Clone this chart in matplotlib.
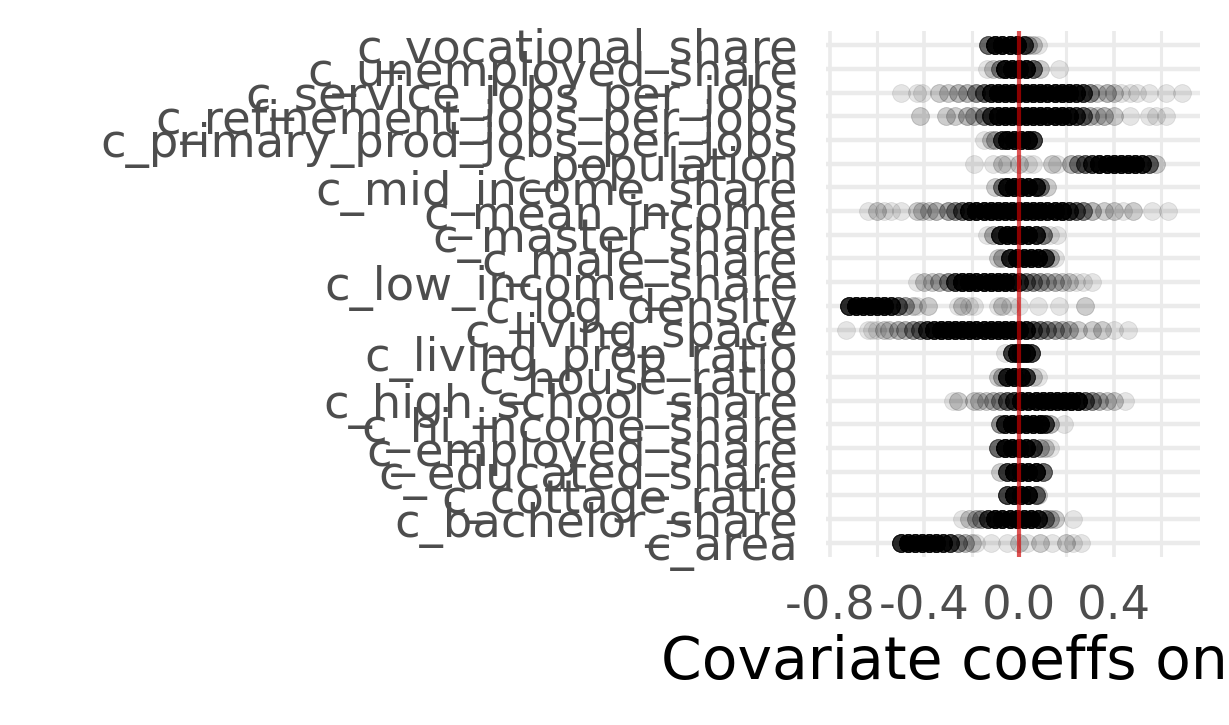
import numpy as np
import matplotlib
matplotlib.use("Agg")
import matplotlib.pyplot as plt

# covariates, bottom to top (alphabetical, like a ggplot factor)
covariates = ["c_area", "c_bachelor_share", "c_cottage_ratio", "c_educated_share",
              "c_employed_share", "c_hi_income_share", "c_high_school_share",
              "c_house_ratio", "c_living_prop_ratio", "c_living_space",
              "c_log_density", "c_low_income_share", "c_male_share",
              "c_master_share", "c_mean_income", "c_mid_income_share",
              "c_population", "c_primary_prod_jobs_per_jobs",
              "c_refinement_jobs_per_jobs", "c_service_jobs_per_jobs",
              "c_unemployed_share", "c_vocational_share"]

# coefficient values, with how many runs sit at each value
area_vals = [-0.50, -0.47, -0.44, -0.41, -0.38, -0.35, -0.32, -0.29, -0.26, -0.23, -0.20, -0.18,
             -0.12, -0.05, 0.00, 0.035, 0.09, 0.14, 0.20, 0.23, 0.26]
area_cnts = [16, 20, 20, 20, 20, 20, 16, 12, 5, 3, 2, 1, 1, 1, 2, 1, 2, 1, 2, 1, 1]

bachelor_vals = [-0.24, -0.21, -0.18, -0.16, -0.13, -0.10, -0.07, -0.04, -0.01, 0.02, 0.05, 0.08,
                 0.11, 0.13, 0.15, 0.23]
bachelor_cnts = [1, 2, 3, 4, 12, 20, 20, 20, 20, 20, 20, 16, 6, 3, 2, 1]

cottage_vals = [-0.05, -0.02, 0.01, 0.04, 0.07, 0.08]
cottage_cnts = [12, 20, 20, 20, 8, 2]

educated_vals = [-0.08, -0.05, -0.02, 0.01, 0.04, 0.07, 0.10]
educated_cnts = [2, 12, 20, 20, 20, 20, 8]

employed_vals = [-0.09, -0.06, -0.03, 0.00, 0.03, 0.06, 0.09, 0.11, 0.13]
employed_cnts = [8, 20, 20, 20, 20, 12, 3, 2, 1]

hi_income_vals = [-0.08, -0.06, -0.03, 0.00, 0.03, 0.06, 0.09, 0.11, 0.13, 0.19]
hi_income_cnts = [5, 16, 20, 20, 20, 20, 20, 12, 3, 1]

high_school_vals = [-0.28, -0.26, -0.19, -0.17, -0.14, -0.11, -0.08, -0.05, -0.02, 0.01, 0.04,
                    0.07, 0.10, 0.13, 0.16, 0.19, 0.22, 0.25, 0.28, 0.31, 0.34, 0.37, 0.40, 0.45]
high_school_cnts = [1, 2, 2, 2, 2, 3, 4, 8, 12, 20, 20, 20, 20, 20, 20, 20, 20, 20, 8, 5, 3, 2,
                    2, 1]

house_vals = [-0.09, -0.07, -0.05, -0.02, 0.01, 0.03, 0.06, 0.08]
house_cnts = [2, 3, 16, 20, 20, 12, 2, 1]

living_prop_vals = [-0.06, -0.03, -0.01, 0.01, 0.03, 0.05]
living_prop_cnts = [1, 12, 20, 20, 20, 12]

living_space_vals = [-0.73, -0.64, -0.62, -0.60, -0.57, -0.55, -0.51, -0.48, -0.45, -0.42, -0.39,
                     -0.36, -0.33, -0.30, -0.27, -0.24, -0.21, -0.18, -0.15, -0.12, -0.09, -0.06,
                     -0.03, 0.00, 0.03, 0.06, 0.09, 0.12, 0.15, 0.18, 0.21, 0.25, 0.31, 0.35,
                     0.40, 0.46]
living_space_cnts = [1, 1, 1, 1, 2, 2, 3, 3, 5, 6, 12, 16, 20, 20, 20, 20, 20, 20, 20, 20, 20, 20,
                     20, 20, 16, 8, 6, 5, 4, 3, 3, 2, 2, 2, 1, 1]

log_density_vals = [-0.72, -0.69, -0.66, -0.63, -0.60, -0.57, -0.54, -0.51, -0.48, -0.45, -0.43,
                    -0.385, -0.26, -0.24, -0.21, -0.19, -0.09, -0.07, -0.04, 0.00, 0.08, 0.17, 0.28]
log_density_cnts = [16, 20, 20, 20, 20, 20, 16, 8, 4, 2, 1, 2, 1, 2, 1, 1, 1, 2, 1, 1, 1, 1, 2]

low_income_vals = [-0.43, -0.40, -0.37, -0.34, -0.30, -0.27, -0.24, -0.21, -0.18, -0.15, -0.12,
                   -0.09, -0.06, -0.03, 0.00, 0.03, 0.06, 0.09, 0.12, 0.15, 0.18, 0.21, 0.24,
                   0.27, 0.31]
low_income_cnts = [1, 2, 2, 3, 5, 12, 20, 20, 20, 20, 20, 20, 20, 16, 12, 6, 5, 4, 3, 3, 2, 2, 1,
                   1, 1]

male_vals = [-0.09, -0.07, -0.04, -0.01, 0.02, 0.05, 0.08, 0.11, 0.13, 0.15]
male_cnts = [2, 3, 16, 20, 20, 20, 20, 12, 3, 1]

master_vals = [-0.135, -0.11, -0.08, -0.05, -0.02, 0.01, 0.04, 0.07, 0.10, 0.13, 0.16]
master_cnts = [1, 3, 16, 20, 20, 20, 20, 16, 6, 1, 1]

mean_income_vals = [-0.64, -0.60, -0.57, -0.54, -0.50, -0.43, -0.41, -0.38, -0.35, -0.30, -0.27,
                    -0.24, -0.21, -0.18, -0.15, -0.12, -0.09, -0.06, -0.03, 0.00, 0.03, 0.06,
                    0.09, 0.12, 0.15, 0.18, 0.21, 0.24, 0.27, 0.31, 0.36, 0.40, 0.44, 0.48,
                    0.56, 0.63]
mean_income_cnts = [1, 2, 1, 1, 1, 2, 2, 2, 3, 4, 5, 8, 16, 20, 20, 20, 20, 20, 20, 20, 20, 20,
                    20, 20, 20, 20, 12, 8, 6, 3, 2, 2, 1, 2, 1, 1]

mid_income_vals = [-0.10, -0.07, -0.05, -0.02, 0.01, 0.04, 0.07, 0.09, 0.12]
mid_income_cnts = [2, 6, 20, 20, 20, 20, 16, 6, 2]

population_vals = [-0.19, -0.11, -0.07, -0.05, 0.00, 0.04, 0.06, 0.14, 0.16, 0.22, 0.25, 0.28,
                   0.31, 0.34, 0.37, 0.40, 0.43, 0.46, 0.49, 0.52, 0.55, 0.58]
population_cnts = [1, 1, 2, 1, 2, 1, 1, 2, 1, 3, 5, 8, 12, 20, 20, 20, 20, 20, 20, 16, 8, 2]

primary_vals = [-0.15, -0.12, -0.10, -0.07, -0.05, -0.02, 0.01, 0.04, 0.06]
primary_cnts = [1, 2, 3, 12, 20, 20, 20, 20, 12]

refinement_vals = [-0.42, -0.31, -0.27, -0.22, -0.19, -0.15, -0.12, -0.09, -0.06, -0.03, 0.00,
                   0.03, 0.06, 0.09, 0.12, 0.15, 0.18, 0.21, 0.24, 0.27, 0.30, 0.33, 0.36, 0.40,
                   0.47, 0.55, 0.58, 0.62]
refinement_cnts = [2, 2, 2, 3, 3, 6, 12, 20, 20, 20, 20, 20, 20, 20, 20, 20, 20, 16, 12, 8, 3, 2,
                   3, 2, 1, 1, 1, 1]

service_vals = [-0.50, -0.43, -0.41, -0.34, -0.30, -0.26, -0.22, -0.18, -0.15, -0.12, -0.09,
                -0.06, -0.03, 0.00, 0.03, 0.06, 0.09, 0.12, 0.15, 0.18, 0.21, 0.24, 0.27, 0.30,
                0.33, 0.37, 0.40, 0.43, 0.47, 0.50, 0.55, 0.62, 0.69]
service_cnts = [1, 1, 1, 2, 2, 3, 3, 5, 8, 16, 20, 20, 20, 20, 20, 20, 20, 20, 20, 20, 20, 16, 12,
                5, 2, 3, 2, 1, 1, 1, 1, 1, 1]

unemployed_vals = [-0.135, -0.11, -0.08, -0.06, -0.03, 0.00, 0.03, 0.06, 0.09, 0.17]
unemployed_cnts = [1, 2, 5, 20, 20, 20, 20, 8, 2, 1]

vocational_vals = [-0.13, -0.10, -0.07, -0.04, -0.01, 0.02, 0.04, 0.06, 0.08]
vocational_cnts = [8, 20, 20, 20, 20, 12, 3, 2, 1]

xticks = [-0.8, -0.4, 0.0, 0.4]
xtick_labels = ["-0.8", "-0.4", "0.0", "0.4"]
xminor = [-0.6, -0.2, 0.2, 0.6]

rows = [(area_vals, area_cnts), (bachelor_vals, bachelor_cnts), (cottage_vals, cottage_cnts),
        (educated_vals, educated_cnts), (employed_vals, employed_cnts),
        (hi_income_vals, hi_income_cnts), (high_school_vals, high_school_cnts),
        (house_vals, house_cnts), (living_prop_vals, living_prop_cnts),
        (living_space_vals, living_space_cnts), (log_density_vals, log_density_cnts),
        (low_income_vals, low_income_cnts), (male_vals, male_cnts),
        (master_vals, master_cnts), (mean_income_vals, mean_income_cnts),
        (mid_income_vals, mid_income_cnts), (population_vals, population_cnts),
        (primary_vals, primary_cnts), (refinement_vals, refinement_cnts),
        (service_vals, service_cnts), (unemployed_vals, unemployed_cnts),
        (vocational_vals, vocational_cnts)]

fig = plt.figure(figsize=(12.29, 7.25), dpi=100)
ax = fig.add_axes([826 / 1229, 1 - 557 / 725, (1200 - 826) / 1229, (557 - 31) / 725])

for i, (vals, cnts) in enumerate(rows):
    x = np.repeat(vals, cnts)
    ax.scatter(x, np.full(len(x), i), s=165, color="black", alpha=0.1,
               linewidths=0.6, edgecolors="black", zorder=3)

ax.axvline(0, color="#d40000", alpha=0.65, lw=3, zorder=4)

ax.set_xlim(-0.816, 0.765)
ax.set_ylim(-0.6, len(covariates) - 0.4)
ax.set_yticks(range(len(covariates)))
ax.set_yticklabels(covariates)
ax.set_xticks(xticks)
ax.set_xticklabels(xtick_labels)
ax.set_xticks(xminor, minor=True)

ax.grid(True, which="major", axis="y", color="#ebebeb", lw=3.2)
ax.grid(True, which="major", axis="x", color="#ebebeb", lw=2.6)
ax.grid(True, which="minor", axis="x", color="#ebebeb", lw=2.2)
ax.set_axisbelow(True)
for s in ax.spines.values():
    s.set_visible(False)
ax.tick_params(axis="both", which="both", length=0, labelsize=33.5, labelcolor="#4d4d4d")
ax.tick_params(axis="y", pad=20)
ax.tick_params(axis="x", pad=20)

fig.text((826 + 1200) / 2 / 1229, 1 - 662 / 725, "Covariate coeffs on rent",
         ha="center", va="center", fontsize=42, color="black")

fig.savefig("out.png", dpi=100)
